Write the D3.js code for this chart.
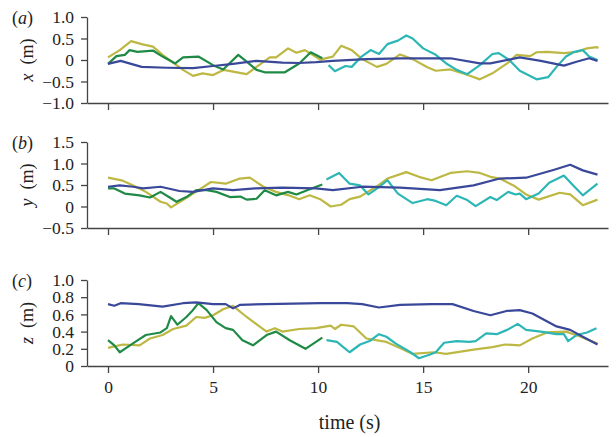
<!DOCTYPE html>
<html>
<head>
<meta charset="utf-8">
<script src="https://cdn.jsdelivr.net/npm/d3@7"></script>
<style>
  body { margin: 0; background: #fff; }
</style>
</head>
<body>
<div id="chart"></div>
<script>
// data: [time (s), position (m)]
var xBlue = [[0,-0.09],[0.6,-0.02],[1.6,-0.16],[2.8,-0.18],[4.05,-0.19],[5,-0.14],[5.95,-0.09],[7.07,-0.02],[8.3,-0.06],[9.1,-0.07],[9.9,-0.05],[10.7,-0.02],[12.3,0.02],[13.9,0.04],[16.3,0.04],[17.7,-0.08],[18.2,-0.08],[19.6,0.06],[20.6,-0.02],[21.7,-0.13],[22.3,-0.04],[22.9,0.04],[23.3,-0.02]];
var xGreen = [[0,-0.09],[0.4,0.09],[0.8,0.12],[1.03,0.23],[1.4,0.19],[2.14,0.22],[2.6,0.08],[3.2,-0.08],[3.57,0.06],[4.3,0.08],[5.0,-0.12],[5.48,-0.22],[6.2,0.12],[6.6,-0.04],[7.07,-0.23],[7.5,-0.29],[8.4,-0.29],[9.1,-0.08],[9.65,0.18],[10.2,0.04]];
var xYellow = [[0,0.06],[0.56,0.23],[1.1,0.44],[1.6,0.37],[2.14,0.31],[2.6,0.12],[3.1,-0.06],[3.57,-0.23],[4.05,-0.37],[4.5,-0.31],[5.0,-0.35],[5.5,-0.23],[5.95,-0.27],[6.6,-0.33],[7.07,-0.16],[7.7,0.06],[8.0,0.06],[8.57,0.27],[8.97,0.17],[9.37,0.23],[10.1,0.01],[10.7,0.08],[11.1,0.33],[11.6,0.23],[12.1,0.02],[12.8,-0.16],[13.25,-0.09],[13.9,0.13],[14.5,0.02],[15.2,-0.17],[15.6,-0.25],[16.3,-0.22],[16.9,-0.31],[17.7,-0.45],[18.3,-0.31],[19.0,-0.08],[19.45,0.12],[20.1,0.09],[20.4,0.18],[20.9,0.19],[21.7,0.16],[22.3,0.19],[22.8,0.27],[23.25,0.3],[23.35,0.28]];
var xCyan = [[10.5,-0.12],[10.8,-0.26],[11.3,-0.14],[11.6,-0.16],[12.07,0.08],[12.5,0.23],[12.9,0.14],[13.3,0.37],[13.8,0.45],[14.2,0.57],[14.5,0.5],[15.0,0.27],[15.6,0.12],[16.1,-0.08],[16.6,-0.23],[17.1,-0.33],[17.7,-0.12],[18.3,0.14],[18.6,0.16],[19.1,0],[19.6,-0.25],[20.4,-0.45],[20.95,-0.4],[21.35,-0.16],[21.8,0.08],[22.2,0.19],[22.6,0.23],[22.9,0.08],[23.3,0]];

var yBlue = [[0,0.46],[0.56,0.49],[1.2,0.46],[1.67,0.42],[2.5,0.46],[3.4,0.36],[4.05,0.34],[5.0,0.42],[5.95,0.38],[7,0.42],[8.3,0.44],[9.9,0.42],[10.7,0.38],[12.1,0.46],[13.9,0.44],[15.8,0.38],[17.4,0.49],[18.65,0.65],[19.9,0.67],[21.2,0.85],[22,0.97],[22.6,0.84],[23.3,0.74]];
var yGreen = [[0,0.42],[0.3,0.42],[0.8,0.3],[1.5,0.26],[2.0,0.21],[2.5,0.34],[2.9,0.22],[3.26,0.11],[3.73,0.22],[4.2,0.38],[4.7,0.38],[5.16,0.34],[5.8,0.22],[6.3,0.23],[6.6,0.16],[7.07,0.18],[7.46,0.38],[8.0,0.26],[8.57,0.34],[8.97,0.28],[9.6,0.4],[10.2,0.51]];
var yYellow = [[0,0.67],[0.7,0.6],[1.2,0.49],[1.8,0.34],[2.5,0.11],[2.8,0.07],[3.0,-0.02],[3.57,0.15],[4.05,0.3],[4.9,0.57],[5.6,0.53],[6.27,0.65],[6.75,0.67],[7.4,0.46],[8.0,0.34],[8.6,0.26],[9.1,0.17],[9.6,0.26],[10.1,0.17],[10.6,0.0],[11.1,0.04],[11.5,0.17],[12.0,0.23],[12.8,0.47],[13.3,0.65],[14.2,0.8],[14.8,0.69],[15.4,0.61],[16.3,0.78],[17.1,0.82],[17.7,0.78],[18.2,0.69],[18.65,0.65],[19.3,0.49],[19.9,0.28],[20.5,0.16],[21.5,0.32],[22,0.28],[22.6,0.03],[23.3,0.16]];
var yCyan = [[10.4,0.63],[11.0,0.78],[11.5,0.53],[12,0.49],[12.4,0.28],[12.9,0.45],[13.3,0.61],[13.8,0.3],[14.5,0.08],[15.2,0.17],[15.6,0.13],[16.1,0.03],[16.6,0.25],[17.1,0.15],[17.5,0.01],[18.2,0.22],[18.5,0.15],[19.05,0.34],[19.4,0.28],[19.6,0.3],[19.9,0.17],[20.5,0.3],[21.0,0.55],[21.7,0.72],[22.1,0.51],[22.6,0.26],[23.3,0.53]];

var zBlue = [[0,0.72],[0.3,0.7],[0.6,0.73],[1.46,0.72],[2.6,0.69],[3.57,0.73],[4.2,0.74],[5,0.72],[5.6,0.72],[5.95,0.67],[6.27,0.71],[7.5,0.72],[10.1,0.73],[11.4,0.73],[12.1,0.72],[12.9,0.68],[13.9,0.71],[15.4,0.72],[16.4,0.72],[17.4,0.64],[18.2,0.59],[18.97,0.64],[19.6,0.65],[20.2,0.61],[21.35,0.46],[22.0,0.42],[22.6,0.34],[23.3,0.25]];
var zGreen = [[0,0.3],[0.3,0.24],[0.56,0.16],[0.8,0.2],[1.35,0.29],[1.8,0.36],[2.5,0.39],[2.8,0.44],[3.0,0.58],[3.3,0.48],[3.73,0.57],[3.97,0.63],[4.3,0.73],[4.7,0.65],[5.16,0.51],[5.6,0.44],[5.95,0.42],[6.4,0.3],[6.9,0.24],[7.55,0.36],[8.0,0.4],[8.65,0.3],[9.4,0.2],[9.9,0.28],[10.2,0.33]];
var zYellow = [[0,0.21],[0.7,0.25],[1.5,0.24],[2.0,0.32],[2.6,0.36],[3.1,0.43],[3.73,0.47],[4.2,0.57],[4.6,0.56],[5,0.59],[5.48,0.66],[5.95,0.7],[6.6,0.57],[7.55,0.4],[7.94,0.44],[8.3,0.4],[9.1,0.43],[9.9,0.44],[10.6,0.47],[10.8,0.43],[11.1,0.48],[11.7,0.46],[12.3,0.32],[13.25,0.28],[13.9,0.21],[14.5,0.14],[15.5,0.16],[16.1,0.14],[17.4,0.19],[18.3,0.22],[18.9,0.25],[19.6,0.24],[20.2,0.32],[20.9,0.39],[21.8,0.4],[22.5,0.34],[23.3,0.26]];
var zCyan = [[10.4,0.3],[10.9,0.28],[11.2,0.22],[11.5,0.16],[12,0.25],[12.45,0.29],[12.9,0.37],[13.25,0.34],[13.7,0.26],[14.4,0.16],[14.8,0.09],[15.3,0.13],[15.6,0.16],[16,0.27],[16.6,0.29],[17.2,0.28],[17.5,0.29],[18.0,0.38],[18.5,0.37],[19.0,0.42],[19.5,0.49],[19.9,0.42],[20.6,0.4],[21.35,0.37],[21.7,0.37],[21.9,0.29],[22.3,0.36],[22.8,0.39],[23.25,0.44]];

// ticks
var timeTicks = [0, 5, 10, 15, 20];
var xTicks = [-1, -0.5, 0, 0.5, 1];
var yTicks = [-0.5, 0, 0.5, 1, 1.5];
var zTicks = [0, 0.2, 0.4, 0.6, 0.8, 1];

var colors = { yellow: "#bdb843", green: "#1f8a45", cyan: "#2db6b6", blue: "#3a4899" };
var FONT = "Liberation Serif";

var svgWidth = 616, svgHeight = 437;
var svg = d3.select("#chart").append("svg")
    .attr("width", svgWidth)
    .attr("height", svgHeight);

var xScale = d3.scaleLinear().domain([-1, 23.8]).range([87, 608]);

var panels = [
    { tag: "a", name: "x", top: 17, bottom: 103, domain: [-1, 1], ticks: xTicks,
      series: [[xYellow, "yellow"], [xGreen, "green"], [xCyan, "cyan"], [xBlue, "blue"]] },
    { tag: "b", name: "y", top: 142, bottom: 228, domain: [-0.5, 1.5], ticks: yTicks,
      series: [[yYellow, "yellow"], [yGreen, "green"], [yCyan, "cyan"], [yBlue, "blue"]] },
    { tag: "c", name: "z", top: 280, bottom: 366, domain: [0, 1], ticks: zTicks,
      series: [[zYellow, "yellow"], [zGreen, "green"], [zCyan, "cyan"], [zBlue, "blue"]] }
];

function fmt(d) {
    if (d === 0) return "0";
    return d3.format(".1f")(d).replace("-", "\u2212");
}

function serif(sel, size) {
    return sel.attr("font-family", FONT)
        .style("font-family", FONT)
        .style("font-size", size + "px")
        .attr("fill", "#222");
}

panels.forEach(function (p, i) {
    var yScale = d3.scaleLinear().domain(p.domain).range([p.bottom, p.top]);
    var g = svg.append("g");

    // lines
    var line = d3.line()
        .x(function (d) { return xScale(d[0]); })
        .y(function (d) { return yScale(d[1]); });
    p.series.forEach(function (s) {
        g.append("path")
            .datum(s[0])
            .attr("fill", "none")
            .attr("stroke", colors[s[1]])
            .attr("stroke-width", 2.2)
            .attr("stroke-linejoin", "round")
            .attr("d", line);
    });

    // bottom axis
    var bottomAxis = d3.axisBottom(xScale)
        .tickValues(timeTicks)
        .tickSize(7)
        .tickSizeOuter(0)
        .tickPadding(8)
        .tickFormat(i === 2 ? d3.format("d") : "");
    var bx = g.append("g")
        .attr("transform", "translate(0," + p.bottom + ")")
        .call(bottomAxis);

    // left axis
    var leftAxis = d3.axisLeft(yScale)
        .tickValues(p.ticks)
        .tickSize(6)
        .tickSizeOuter(0)
        .tickPadding(7)
        .tickFormat(fmt);
    var lx = g.append("g")
        .attr("transform", "translate(87,0)")
        .call(leftAxis);

    [bx, lx].forEach(function (ax) {
        ax.attr("font-family", FONT);
        ax.select(".domain").attr("stroke", "#444").attr("stroke-width", 1.3);
        ax.selectAll(".tick line").attr("stroke", "#444").attr("stroke-width", 1.3);
        serif(ax.selectAll(".tick text"), 17.5);
    });

    // axis title
    var mid = (p.top + p.bottom) / 2;
    var t = serif(svg.append("text"), 18)
        .attr("transform", "translate(33," + mid + ") rotate(-90)")
        .attr("text-anchor", "middle");
    t.append("tspan").style("font-style", "italic").text(p.name);
    t.append("tspan").text("\u2002(m)");

    // panel label
    var lab = serif(svg.append("text"), 18)
        .attr("x", 12)
        .attr("y", p.top + 7);
    lab.append("tspan").text("(");
    lab.append("tspan").style("font-style", "italic").text(p.tag);
    lab.append("tspan").text(")");
});

serif(svg.append("text"), 20)
    .attr("x", xScale(11.5))
    .attr("y", 429)
    .attr("text-anchor", "middle")
    .text("time (s)");
</script>
</body>
</html>
